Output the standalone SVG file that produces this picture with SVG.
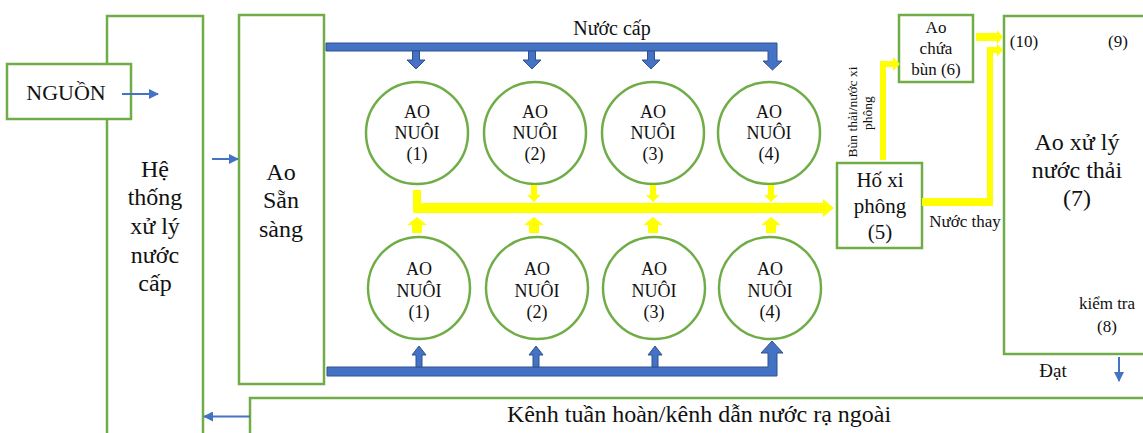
<svg xmlns="http://www.w3.org/2000/svg" width="1143" height="433" viewBox="0 0 1143 433">
<defs>
<style>
.box{fill:#fff;stroke:#70AD47;stroke-width:2.5}
.t{font-family:"Liberation Serif","Times New Roman",serif;fill:#111;text-anchor:middle}
.thin{stroke:#4472C4;stroke-width:2;fill:none;marker-end:url(#ah)}
.blue{fill:#4472C4;stroke:#2F528F;stroke-width:1}
.yel{fill:#FFFF00;stroke:none}
</style>
<marker id="ah" viewBox="0 0 10 10" refX="9" refY="5" markerWidth="5" markerHeight="5" orient="auto" markerUnits="strokeWidth">
<path d="M0,0 L10,5 L0,10 Z" fill="#4472C4"/>
</marker>
</defs>

<g id="he-thong">
<rect class="box" x="107" y="16" width="96" height="430"/>
<text class="t" font-size="24" x="155" y="177">Hệ</text>
<text class="t" font-size="24" x="155" y="205">thống</text>
<text class="t" font-size="24" x="155" y="234">xử lý</text>
<text class="t" font-size="24" x="155" y="263">nước</text>
<text class="t" font-size="24" x="155" y="291">cấp</text>
</g>

<g id="nguon">
<rect class="box" x="7" y="64" width="124" height="55"/>
<text class="t" font-size="22" x="66" y="100">NGUỒN</text>
</g>

<g id="ao-san-sang">
<rect class="box" x="239" y="15" width="85" height="369"/>
<text class="t" font-size="24" x="281" y="180">Ao</text>
<text class="t" font-size="24" x="281" y="208">Sẵn</text>
<text class="t" font-size="24" x="281" y="237">sàng</text>
</g>

<g id="kenh">
<rect class="box" x="250" y="398" width="910" height="60"/>
<text class="t" font-size="24" x="699" y="422">Kênh tuần hoàn/kênh dẫn nước rạ ngoài</text>
</g>

<g id="ao-nuoi-top-1">
<circle class="box" cx="417" cy="133" r="51"/>
<text class="t" font-size="18" x="417" y="118">AO</text>
<text class="t" font-size="18" x="417" y="139">NUÔI</text>
<text class="t" font-size="18" x="417" y="160">(1)</text>
</g>
<g id="ao-nuoi-top-2">
<circle class="box" cx="535" cy="133" r="51"/>
<text class="t" font-size="18" x="535" y="118">AO</text>
<text class="t" font-size="18" x="535" y="139">NUÔI</text>
<text class="t" font-size="18" x="535" y="160">(2)</text>
</g>
<g id="ao-nuoi-top-3">
<circle class="box" cx="653" cy="133" r="51"/>
<text class="t" font-size="18" x="653" y="118">AO</text>
<text class="t" font-size="18" x="653" y="139">NUÔI</text>
<text class="t" font-size="18" x="653" y="160">(3)</text>
</g>
<g id="ao-nuoi-top-4">
<circle class="box" cx="769" cy="133" r="51"/>
<text class="t" font-size="18" x="769" y="118">AO</text>
<text class="t" font-size="18" x="769" y="139">NUÔI</text>
<text class="t" font-size="18" x="769" y="160">(4)</text>
</g>

<g id="ao-nuoi-bot-1">
<circle class="box" cx="419" cy="288" r="51"/>
<text class="t" font-size="18" x="419" y="275">AO</text>
<text class="t" font-size="18" x="419" y="297">NUÔI</text>
<text class="t" font-size="18" x="419" y="318">(1)</text>
</g>
<g id="ao-nuoi-bot-2">
<circle class="box" cx="537" cy="288" r="51"/>
<text class="t" font-size="18" x="537" y="275">AO</text>
<text class="t" font-size="18" x="537" y="297">NUÔI</text>
<text class="t" font-size="18" x="537" y="318">(2)</text>
</g>
<g id="ao-nuoi-bot-3">
<circle class="box" cx="654" cy="288" r="51"/>
<text class="t" font-size="18" x="654" y="275">AO</text>
<text class="t" font-size="18" x="654" y="297">NUÔI</text>
<text class="t" font-size="18" x="654" y="318">(3)</text>
</g>
<g id="ao-nuoi-bot-4">
<circle class="box" cx="770" cy="288" r="51"/>
<text class="t" font-size="18" x="770" y="275">AO</text>
<text class="t" font-size="18" x="770" y="297">NUÔI</text>
<text class="t" font-size="18" x="770" y="318">(4)</text>
</g>

<g id="ho-xi-phong">
<rect class="box" x="837" y="163" width="85" height="85"/>
<text class="t" font-size="21" x="880" y="187">Hố xi</text>
<text class="t" font-size="21" x="880" y="213">phông</text>
<text class="t" font-size="21" x="880" y="239">(5)</text>
</g>

<g id="ao-chua-bun">
<rect class="box" x="899" y="15" width="74" height="67"/>
<text class="t" font-size="17" x="936" y="33">Ao</text>
<text class="t" font-size="17" x="936" y="54">chứa</text>
<text class="t" font-size="17" x="936" y="75">bùn (6)</text>
</g>

<g id="ao-xu-ly">
<rect class="box" x="1004" y="16" width="160" height="338"/>
<text class="t" font-size="17" x="1024" y="47">(10)</text>
<text class="t" font-size="17" x="1118" y="47">(9)</text>
<text class="t" font-size="24" x="1077" y="150">Ao xử lý</text>
<text class="t" font-size="24" x="1077" y="178">nước thải</text>
<text class="t" font-size="24" x="1077" y="206">(7)</text>
<text class="t" font-size="17" x="1107" y="309">kiểm tra</text>
<text class="t" font-size="17" x="1107" y="332">(8)</text>
</g>

<g id="connectors">
<line class="thin" x1="122" y1="94" x2="158" y2="94"/>
<line class="thin" x1="212" y1="159" x2="238" y2="159"/>
<line class="thin" x1="250" y1="416.5" x2="204" y2="416.5"/>
<line class="thin" x1="1119" y1="357" x2="1119" y2="381"/>

<!-- top blue supply -->
<polygon class="blue" points="326,43 777,43 777,61 782,61 772.5,70 763,61 768,61 768,51 326,51"/>
<polygon class="blue" points="412.5,51 419.5,51 419.5,60 425,60 416,69 407,60 412.5,60"/>
<polygon class="blue" points="528.5,51 535.5,51 535.5,60 541,60 532,69 523,60 528.5,60"/>
<polygon class="blue" points="647.5,51 654.5,51 654.5,60 660,60 651,69 642,60 647.5,60"/>
<text class="t" font-size="20" x="612" y="35">Nước cấp</text>

<!-- bottom blue supply -->
<polygon class="blue" points="327,367 768,367 768,353 761,353 772,341 783,353 777,353 777,376 327,376"/>
<polygon class="blue" points="416,367 422,367 422,355 426,355 419,346 412,355 416,355"/>
<polygon class="blue" points="533,367 539,367 539,355 543,355 536,346 529,355 533,355"/>
<polygon class="blue" points="652,367 658,367 658,355 662,355 655,346 648,355 652,355"/>

<!-- yellow collector -->
<polygon class="yel" points="413,190 421,190 421,203 823,203 823,199 834,208 823,217 823,213 413,213"/>
<polygon class="yel" points="531,185 537,185 537,195 541,195 534,202 527,195 531,195"/>
<polygon class="yel" points="650,185 656,185 656,195 660,195 653,202 646,195 650,195"/>
<polygon class="yel" points="768,185 774,185 774,195 778,195 771,202 764,195 768,195"/>
<polygon class="yel" points="412,233 422,233 422,225 427,225 417,217 407,225 412,225"/>
<polygon class="yel" points="529,233 539,233 539,225 544,225 534,217 524,225 529,225"/>
<polygon class="yel" points="648,233 658,233 658,225 663,225 653,217 643,225 648,225"/>
<polygon class="yel" points="766,233 776,233 776,225 781,225 771,217 761,225 766,225"/>

<!-- yellow to Ao chua bun -->
<polygon class="yel" points="880,160 880,61 893,61 893,57 900,64 893,71 893,67 886,67 886,160"/>
<text class="t" font-size="13.5" transform="translate(857,112) rotate(-90)">Bùn thải/nước xi</text>
<text class="t" font-size="13.5" transform="translate(872,113) rotate(-90)">phông</text>

<!-- yellow from Ao chua bun to Ao xu ly -->
<polygon class="yel" points="976,33 997,33 997,30 1003,37 997,44 997,41 976,41"/>

<!-- yellow from Ho xi phong to Ao xu ly -->
<polygon class="yel" points="922,198 987,198 987,47 997,47 997,43.5 1003,50 997,56.5 997,53 993,53 993,206 922,206"/>
<text class="t" font-size="17" x="965" y="227">Nước thay</text>

<text class="t" font-size="19" x="1053" y="377">Đạt</text>
</g>
</svg>
